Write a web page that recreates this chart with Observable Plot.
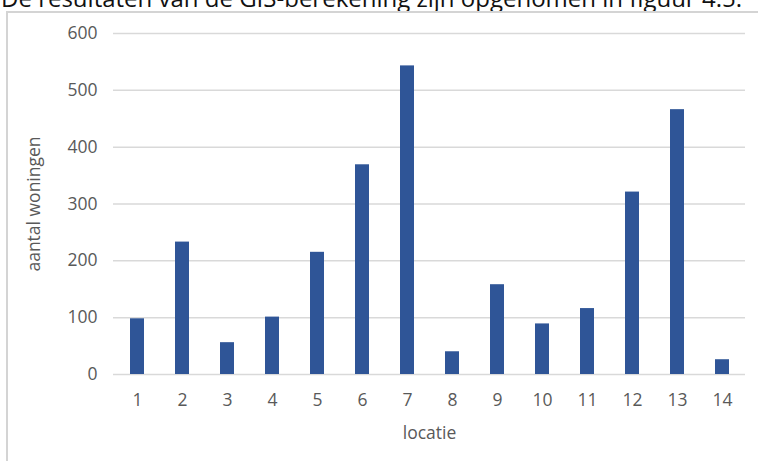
<!DOCTYPE html>
<html>
<head>
<meta charset="utf-8">
<script src="https://cdn.jsdelivr.net/npm/d3@7"></script>
<script src="https://cdn.jsdelivr.net/npm/@observablehq/plot@0.6"></script>
<style>
  html, body { margin: 0; padding: 0; background: #fff; }
  #page { position: relative; width: 758px; height: 461px; overflow: hidden; background: #fff; }
  #intro { position: absolute; left: 1px; top: -16px; font-family: "Open Sans", sans-serif; font-size: 24px; line-height: 28px; color: #111; white-space: nowrap; }
  #frame { position: absolute; left: 6px; top: 11px; width: 820px; height: 520px; border: 2px solid #d4d4d4; box-sizing: border-box; }
  #chart { position: absolute; left: 0; top: 0; }
</style>
</head>
<body>
<div id="page">
  <div id="intro">De resultaten van de GIS-berekening zijn opgenomen in figuur 4.5.</div>
  <div id="frame"></div>
  <div id="chart"></div>
</div>
<script>
const locaties = ["1","2","3","4","5","6","7","8","9","10","11","12","13","14"];
const woningen = [98, 233, 56, 101, 215, 369, 543, 40, 158, 89, 116, 321, 466, 26];
const yTicks = [0, 100, 200, 300, 400, 500, 600];
const yLabel = "aantal woningen";
const xLabel = "locatie";

const data = locaties.map((l, i) => ({locatie: l, aantal: woningen[i]}));

const chart = Plot.plot({
  width: 758,
  height: 461,
  marginLeft: 113,
  marginRight: 13,
  marginTop: 33,
  marginBottom: 87,
  style: {fontFamily: "'Open Sans', sans-serif", fontSize: "17.5px", color: "#595959", background: "transparent"},
  x: {domain: locaties, paddingInner: 0.69, paddingOuter: 0.345, label: null},
  y: {domain: [0, 600], ticks: yTicks, label: null},
  marks: [
    Plot.gridY(yTicks, {stroke: "#d9d9d9", strokeOpacity: 1, strokeWidth: 1.5}),
    Plot.barY(data, {x: "locatie", y: "aantal", fill: "#2f5597"}),
    Plot.axisY(yTicks, {tickSize: 0, tickPadding: 16, fill: "#595959", label: yLabel, labelAnchor: "center", labelArrow: "none", labelOffset: 86, fontSize: 17.5}),
    Plot.axisX({tickSize: 0, tickPadding: 19, fill: "#595959", label: xLabel, labelAnchor: "center", labelArrow: "none", labelOffset: 64, fontSize: 17.5})
  ]
});
document.getElementById("chart").appendChild(chart);
</script>
</body>
</html>
